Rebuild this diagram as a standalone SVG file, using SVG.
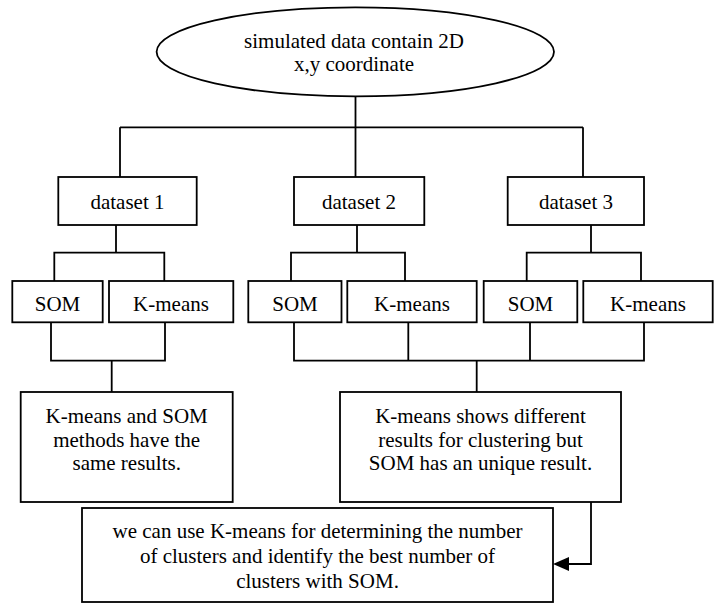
<svg xmlns="http://www.w3.org/2000/svg" width="720" height="604" viewBox="0 0 720 604">
<style>
.b{fill:#fff;stroke:#000;stroke-width:1.8}
.c{fill:none;stroke:#000;stroke-width:1.8}
.t{font-family:'Liberation Serif','Times New Roman',Tinos,Times,'DejaVu Serif',serif;font-size:21px;fill:#000;text-anchor:middle}
</style>
<rect width="720" height="604" fill="#fff"/>
<g id="connectors">
<path class="c" d="M355.5,96 V127.3 M120,127.3 H583 M120,127.3 V177 M355.5,127.3 V177 M583,127.3 V177"/>
<path class="c" d="M116,225 V252.7 M54.3,281 V252.7 H164.3 V281"/>
<path class="c" d="M357,225 V252.7 M291,281 V252.7 H405 V281"/>
<path class="c" d="M591,225 V252.7 M526.7,281 V252.7 H641 V281"/>
<path class="c" d="M51,322 V360.7 H165 V322 M111.7,360.7 V392"/>
<path class="c" d="M294,322 V360.7 H644 V322 M408.3,322 V360.7 M530,322 V360.7 M476.7,360.7 V392"/>
<path class="c" d="M591,502 V564 H569"/>
<path d="M553,564 L569,557 L569,571 Z" fill="#000"/>
</g>
<g class="t" font-family="Liberation Serif, Times New Roman, serif">
<g id="start">
<ellipse class="b" cx="355.3" cy="51.8" rx="198.7" ry="44.5"/>
<text x="354" y="48">simulated data contain 2D</text>
<text x="354" y="71">x,y coordinate</text>
</g>
<g id="dataset1"><rect class="b" x="58.3" y="177" width="138.4" height="48"/><text x="127.5" y="209">dataset 1</text></g>
<g id="dataset2"><rect class="b" x="294" y="177" width="130.3" height="48"/><text x="359" y="209">dataset 2</text></g>
<g id="dataset3"><rect class="b" x="507.7" y="177" width="136.3" height="48"/><text x="576" y="209">dataset 3</text></g>
<g id="som1"><rect class="b" x="12.3" y="281" width="90.4" height="41.3"/><text x="57.5" y="311">SOM</text></g>
<g id="kmeans1"><rect class="b" x="109" y="281" width="124.3" height="41.3"/><text x="171" y="311">K-means</text></g>
<g id="som2"><rect class="b" x="248.3" y="281" width="93.2" height="41.3"/><text x="295" y="311">SOM</text></g>
<g id="kmeans2"><rect class="b" x="347.3" y="281" width="129.4" height="41.3"/><text x="412" y="311">K-means</text></g>
<g id="som3"><rect class="b" x="483.7" y="281" width="93.6" height="41.3"/><text x="530.5" y="311">SOM</text></g>
<g id="kmeans3"><rect class="b" x="583.3" y="281" width="129.4" height="41.3"/><text x="648" y="311">K-means</text></g>
<g id="resultA"><rect class="b" x="20.7" y="392" width="212" height="110"/>
<text x="126.7" y="423">K-means and SOM</text><text x="126.7" y="446.5">methods have the</text><text x="126.7" y="470">same results.</text></g>
<g id="resultB"><rect class="b" x="340" y="392" width="281" height="110"/>
<text x="480.5" y="423">K-means shows different</text><text x="480.5" y="446.5">results for clustering but</text><text x="480.5" y="470">SOM has an unique result.</text></g>
<g id="conclusion"><rect class="b" x="82" y="508" width="471" height="94"/>
<text x="317.5" y="538">we can use K-means for determining the number</text><text x="317.5" y="563">of clusters and identify the best number of</text><text x="317.5" y="588">clusters with SOM.</text></g>
</g>
</svg>
